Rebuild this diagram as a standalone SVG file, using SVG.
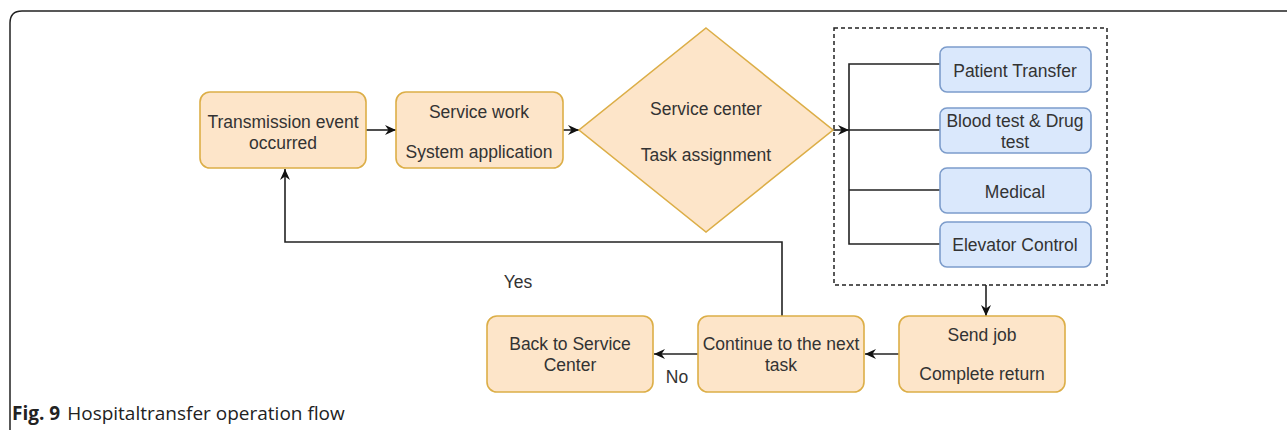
<svg xmlns="http://www.w3.org/2000/svg" width="1287" height="430" viewBox="0 0 1287 430">
<style>
.o{fill:#fde5c9;stroke:#dcae47;stroke-width:1.6}
.b{fill:#dae8fc;stroke:#7c9ccb;stroke-width:1.6}
.t{font-family:"Liberation Sans",Arial,sans-serif;font-size:17.5px;fill:#333;text-anchor:middle}
.c{fill:none;stroke:#222;stroke-width:1.6}
.cap{font-family:"Open Sans","Noto Sans",sans-serif;font-size:19px;fill:#222}
</style>
<defs>
<marker id="a" markerUnits="userSpaceOnUse" markerWidth="13" markerHeight="11" refX="11" refY="5" orient="auto">
<path d="M0,0 L11,5 L0,10 L3.5,5 Z" fill="#111"/>
</marker>
</defs>
<path d="M1287 11 H22 Q10 11 10 23 V430" fill="none" stroke="#222" stroke-width="1.5"/>
<g id="connectors">
<path class="c" d="M366 130 H396" marker-end="url(#a)"/>
<path class="c" d="M563 130 H579" marker-end="url(#a)"/>
<path class="c" d="M833 130 H849" marker-end="url(#a)"/>
<path class="c" d="M940 64 H849 V244 H940 M849 130 H940 M849 190 H940"/>
<path class="c" d="M986 285 V316" marker-end="url(#a)"/>
<path class="c" d="M899 354 H865" marker-end="url(#a)"/>
<path class="c" d="M698 354 H654" marker-end="url(#a)"/>
<path class="c" d="M782 316 V242 H285 V169" marker-end="url(#a)"/>
<text class="t" x="518" y="288">Yes</text>
<text class="t" x="677" y="383">No</text>
</g>
<g id="group-box"><rect x="834" y="28" width="273" height="257" fill="none" stroke="#222" stroke-width="1.5" stroke-dasharray="4 3"/></g>
<g id="n-transmission"><rect class="o" x="200" y="92" width="166" height="76" rx="10"/><text class="t" x="283" y="128">Transmission event</text><text class="t" x="283" y="149">occurred</text></g>
<g id="n-service-work"><rect class="o" x="396" y="92" width="167" height="76" rx="10"/><text class="t" x="479" y="118">Service work</text><text class="t" x="479" y="158">System application</text></g>
<g id="n-service-center"><path class="o" d="M706 28 L833 130 L706 232 L579 130 Z"/><text class="t" x="706" y="115">Service center</text><text class="t" x="706" y="161">Task assignment</text></g>
<g id="n-patient"><rect class="b" x="940" y="47" width="151" height="45" rx="7"/><text class="t" x="1015" y="77">Patient Transfer</text></g>
<g id="n-blood"><rect class="b" x="940" y="108" width="151" height="45" rx="7"/><text class="t" x="1015" y="127">Blood test &amp; Drug</text><text class="t" x="1015" y="148">test</text></g>
<g id="n-medical"><rect class="b" x="940" y="168" width="151" height="45" rx="7"/><text class="t" x="1015" y="198">Medical</text></g>
<g id="n-elevator"><rect class="b" x="940" y="222" width="151" height="45" rx="7"/><text class="t" x="1015" y="251">Elevator Control</text></g>
<g id="n-send-job"><rect class="o" x="899" y="316" width="166" height="76" rx="10"/><text class="t" x="982" y="341">Send job</text><text class="t" x="982" y="380">Complete return</text></g>
<g id="n-continue"><rect class="o" x="698" y="316" width="166" height="76" rx="10"/><text class="t" x="781" y="350">Continue to the next</text><text class="t" x="781" y="371">task</text></g>
<g id="n-back"><rect class="o" x="487" y="316" width="166" height="76" rx="10"/><text class="t" x="570" y="350">Back to Service</text><text class="t" x="570" y="371">Center</text></g>
<text class="cap" x="12" y="420"><tspan font-weight="bold">Fig. 9</tspan><tspan dx="7">Hospitaltransfer operation flow</tspan></text>
</svg>
